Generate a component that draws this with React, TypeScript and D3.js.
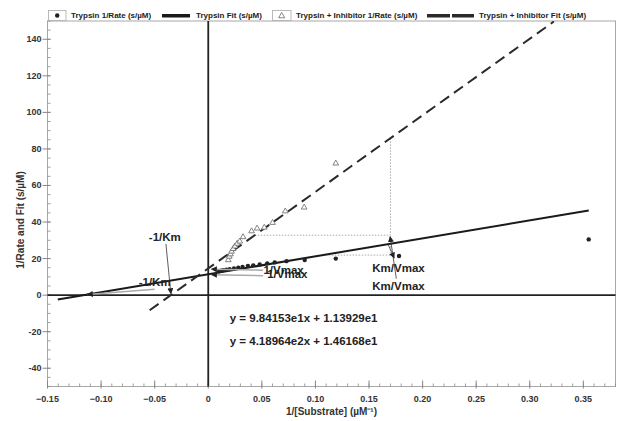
import React, { useRef, useEffect } from 'react';
import * as d3 from 'd3';

// Trypsin 1/Rate (s/uM)
const trypsinX = [-0.112, 0.010, 0.012, 0.014, 0.017, 0.020, 0.024, 0.028, 0.032, 0.037, 0.042, 0.048, 0.055, 0.062, 0.073, 0.090, 0.119, 0.178, 0.355];
const trypsinY = [0.5, 13.0, 13.3, 13.6, 13.9, 14.2, 14.6, 15.0, 15.4, 15.9, 16.3, 16.8, 17.4, 17.9, 18.6, 19.2, 20.0, 21.4, 30.5];

// Trypsin + Inhibitor 1/Rate (s/uM)
const inhibX = [0.0187, 0.0196, 0.0208, 0.0218, 0.0232, 0.0249, 0.0270, 0.0294, 0.0325, 0.0404, 0.0456, 0.0523, 0.0600, 0.0719, 0.0895, 0.119];
const inhibY = [19.2, 21.1, 22.4, 23.9, 25.3, 26.7, 28.2, 29.4, 31.8, 35.0, 36.5, 37.0, 39.6, 45.9, 48.0, 72.1];

// fits as printed on the chart
const trypsinFit = { slope: 98.4153, intercept: 11.3929, from: -0.1404, to: 0.355 };
const inhibFit = { slope: 418.964, intercept: 14.6168, from: -0.0547, to: 0.3225 };
const equations = ['y = 9.84153e1x + 1.13929e1', 'y = 4.18964e2x + 1.46168e1'];

// Km/Vmax slope triangles: level of horizontal leg, x of vertical leg
const triangles = [
  { fit: inhibFit, level: 32.8, xEnd: 0.170 },
  { fit: trypsinFit, level: 21.9, xEnd: 0.170 },
];

const xTicks = [-0.15, -0.10, -0.05, 0, 0.05, 0.10, 0.15, 0.20, 0.25, 0.30, 0.35];
const yTicks = [-40, -20, 0, 20, 40, 60, 80, 100, 120, 140];

const legendItems = ['Trypsin 1/Rate (s/µM)', 'Trypsin Fit (s/µM)', 'Trypsin + Inhibitor 1/Rate (s/µM)', 'Trypsin + Inhibitor Fit (s/µM)'];

const App = () => {
  const ref = useRef<SVGSVGElement>(null);

  useEffect(() => {
    const svg = d3.select(ref.current);
    svg.selectAll('*').remove();
    const font = '"Liberation Sans", Arial, sans-serif';

    const left = 47.5, right = 615.5, top = 21, bottom = 386.5;
    const x = d3.scaleLinear().domain([-0.15, 0.38]).range([left, right]);
    const y = d3.scaleLinear().domain([-50, 150]).range([bottom, top]);

    const defs = svg.append('defs');
    defs.append('marker')
      .attr('id', 'arr')
      .attr('viewBox', '0 0 10 10')
      .attr('refX', 9).attr('refY', 5)
      .attr('markerWidth', 6).attr('markerHeight', 6)
      .attr('markerUnits', 'userSpaceOnUse')
      .attr('orient', 'auto')
      .append('path').attr('d', 'M0,0 L10,5 L0,10 z').attr('fill', '#222');
    defs.append('clipPath').attr('id', 'plotclip')
      .append('rect').attr('x', left).attr('y', top).attr('width', right - left).attr('height', bottom - top);

    // plot frame
    svg.append('rect')
      .attr('x', left).attr('y', top).attr('width', right - left).attr('height', bottom - top)
      .attr('fill', 'white').attr('stroke', '#a8a8a8').attr('stroke-width', 1);

    // x ticks (inside), minor every 0.01
    const xMinor = d3.range(-15, 39).map(i => i / 100);
    svg.append('g').selectAll('line').data(xMinor).enter().append('line')
      .attr('x1', d => x(d)).attr('x2', d => x(d))
      .attr('y1', bottom).attr('y2', bottom - 3)
      .attr('stroke', '#888').attr('stroke-width', 0.8);
    svg.append('g').selectAll('line').data(xTicks).enter().append('line')
      .attr('x1', d => x(d)).attr('x2', d => x(d))
      .attr('y1', bottom + 2).attr('y2', bottom - 6)
      .attr('stroke', '#888').attr('stroke-width', 1);
    svg.append('g').selectAll('text').data(xTicks).enter().append('text')
      .attr('x', d => x(d)).attr('y', bottom + 15)
      .attr('text-anchor', 'middle')
      .attr('font-family', font).attr('font-weight', 'bold').attr('font-size', 9).attr('fill', '#333')
      .text(d => d === 0 ? '0' : d3.format('.2f')(d));

    // y ticks, minor every 5
    const yMinor = d3.range(-50, 151, 5);
    svg.append('g').selectAll('line').data(yMinor).enter().append('line')
      .attr('x1', left).attr('x2', left + 3)
      .attr('y1', d => y(d)).attr('y2', d => y(d))
      .attr('stroke', '#888').attr('stroke-width', 0.8);
    svg.append('g').selectAll('line').data(yTicks).enter().append('line')
      .attr('x1', left - 5).attr('x2', left + 3)
      .attr('y1', d => y(d)).attr('y2', d => y(d))
      .attr('stroke', '#888').attr('stroke-width', 1);
    svg.append('g').selectAll('text').data(yTicks).enter().append('text')
      .attr('x', left - 6).attr('y', d => y(d) + 3)
      .attr('text-anchor', 'end')
      .attr('font-family', font).attr('font-weight', 'bold').attr('font-size', 9).attr('fill', '#333')
      .text(d => d);

    // axis titles
    svg.append('text')
      .attr('x', (left + right) / 2).attr('y', 415)
      .attr('text-anchor', 'middle')
      .attr('font-family', font).attr('font-weight', 'bold').attr('font-size', 10).attr('fill', '#333')
      .text('1/[Substrate] (µM⁻¹)');
    svg.append('text')
      .attr('transform', `translate(24,220) rotate(-90)`)
      .attr('text-anchor', 'middle')
      .attr('font-family', font).attr('font-weight', 'bold').attr('font-size', 10).attr('fill', '#333')
      .text('1/Rate and Fit (s/µM)');

    // zero lines
    svg.append('line').attr('x1', x(0)).attr('x2', x(0)).attr('y1', top).attr('y2', bottom)
      .attr('stroke', '#222').attr('stroke-width', 1.8);
    svg.append('line').attr('x1', left).attr('x2', right).attr('y1', y(0)).attr('y2', y(0))
      .attr('stroke', '#222').attr('stroke-width', 1.8);

    const plot = svg.append('g').attr('clip-path', 'url(#plotclip)');

    // dotted slope triangles
    triangles.forEach(t => {
      const xStart = (t.level - t.fit.intercept) / t.fit.slope;
      const yEnd = t.fit.slope * t.xEnd + t.fit.intercept;
      plot.append('path')
        .attr('d', `M${x(xStart)},${y(t.level)} L${x(t.xEnd)},${y(t.level)} L${x(t.xEnd)},${y(yEnd)}`)
        .attr('fill', 'none').attr('stroke', '#aaa').attr('stroke-width', 1)
        .attr('stroke-dasharray', '1.5,1.5');
    });

    // fit lines
    const line = d3.line<number>()
      .x(d => x(d[0]))
      .y(d => y(d[1]));
    const fitPts = (f: typeof trypsinFit) => [f.from, f.to].map(v => [v, f.slope * v + f.intercept]);
    plot.append('path').attr('d', line(fitPts(trypsinFit) as any))
      .attr('fill', 'none').attr('stroke', '#1a1a1a').attr('stroke-width', 2);
    plot.append('path').attr('d', line(fitPts(inhibFit) as any))
      .attr('fill', 'none').attr('stroke', '#2a2a2a').attr('stroke-width', 2)
      .attr('stroke-dasharray', '11,6');

    // points
    plot.append('g').selectAll('circle').data(trypsinX).enter().append('circle')
      .attr('cx', d => x(d)).attr('cy', (d, i) => y(trypsinY[i]))
      .attr('r', (d, i) => i === 0 ? 1.3 : 2.2)
      .attr('fill', '#222');
    const tri = d3.symbol().type(d3.symbolTriangle).size(14);
    plot.append('g').selectAll('path').data(inhibX).enter().append('path')
      .attr('d', tri)
      .attr('transform', (d, i) => `translate(${x(d)},${y(inhibY[i])})`)
      .attr('fill', 'white').attr('stroke', '#666').attr('stroke-width', 0.8);

    // annotations
    const label = (tx: number, ty: number, s: string, anchor = 'start') =>
      svg.append('text').attr('x', x(tx)).attr('y', y(ty)).attr('text-anchor', anchor)
        .attr('font-family', font).attr('font-weight', 'bold').attr('font-size', 11.5).attr('fill', '#222')
        .text(s);
    const arrow = (x1: number, y1: number, x2: number, y2: number, color: string, w: number) =>
      svg.append('line').attr('x1', x(x1)).attr('y1', y(y1)).attr('x2', x(x2)).attr('y2', y(y2))
        .attr('stroke', color).attr('stroke-width', w).attr('marker-end', 'url(#arr)');

    const kmInhib = -inhibFit.intercept / inhibFit.slope;
    const kmTryp = -trypsinFit.intercept / trypsinFit.slope;

    arrow(-0.0395, 28, kmInhib, 0.8, '#333', 0.8);
    label(-0.0405, 29.8, '-1/Km', 'middle');
    arrow(-0.05, 3.2, kmTryp + 0.003, 0.4, '#aaa', 1.5);
    label(-0.05, 5.2, '-1/Km', 'middle');

    arrow(0.051, 13.6, 0.003, 14.2, '#aaa', 1.5);
    arrow(0.051, 10.6, 0.003, 11.2, '#aaa', 1.5);
    label(0.0515, 11.6, '1/Vmax');
    label(0.055, 9.3, '1/Vmax');

    arrow(0.1755, 9, 0.1697, 32, '#333', 0.8);
    arrow(0.168, 27.5, 0.1735, 20.3, '#333', 0.8);
    label(0.1775, 12.6, 'Km/Vmax', 'middle');
    label(0.1775, 2.7, 'Km/Vmax', 'middle');

    label(0.0201, -14.8, equations[0]);
    label(0.0201, -27.4, equations[1]);

    // legend
    const lg = svg.append('g').attr('font-family', font).attr('font-weight', 'bold').attr('font-size', 8).attr('fill', '#222');
    lg.append('rect').attr('x', 48.5).attr('y', 10.5).attr('width', 17.5).attr('height', 10)
      .attr('fill', 'white').attr('stroke', '#aaa').attr('stroke-width', 0.8);
    lg.append('circle').attr('cx', 57.2).attr('cy', 15.5).attr('r', 2.2).attr('fill', '#222');
    lg.append('text').attr('x', 71).attr('y', 18.3).text(legendItems[0]);
    lg.append('rect').attr('x', 162).attr('y', 14).attr('width', 28).attr('height', 3.5).attr('fill', '#1a1a1a');
    lg.append('text').attr('x', 196).attr('y', 18.3).text(legendItems[1]);
    lg.append('rect').attr('x', 272.5).attr('y', 10.5).attr('width', 18.5).attr('height', 10)
      .attr('fill', 'white').attr('stroke', '#aaa').attr('stroke-width', 0.8);
    lg.append('path').attr('d', d3.symbol().type(d3.symbolTriangle).size(16)())
      .attr('transform', 'translate(281.7,16)')
      .attr('fill', 'white').attr('stroke', '#555').attr('stroke-width', 0.7);
    lg.append('text').attr('x', 296).attr('y', 18.3).text(legendItems[2]);
    lg.append('rect').attr('x', 427).attr('y', 14).attr('width', 23).attr('height', 3.5).attr('fill', '#2a2a2a');
    lg.append('rect').attr('x', 452).attr('y', 14).attr('width', 22).attr('height', 3.5).attr('fill', '#2a2a2a');
    lg.append('text').attr('x', 479).attr('y', 18.3).text(legendItems[3]);
  }, []);

  return (
    <svg ref={ref} width={619} height={421}
      style={{ position: 'absolute', left: 0, top: 0, background: 'white' }} />
  );
};

export default App;
